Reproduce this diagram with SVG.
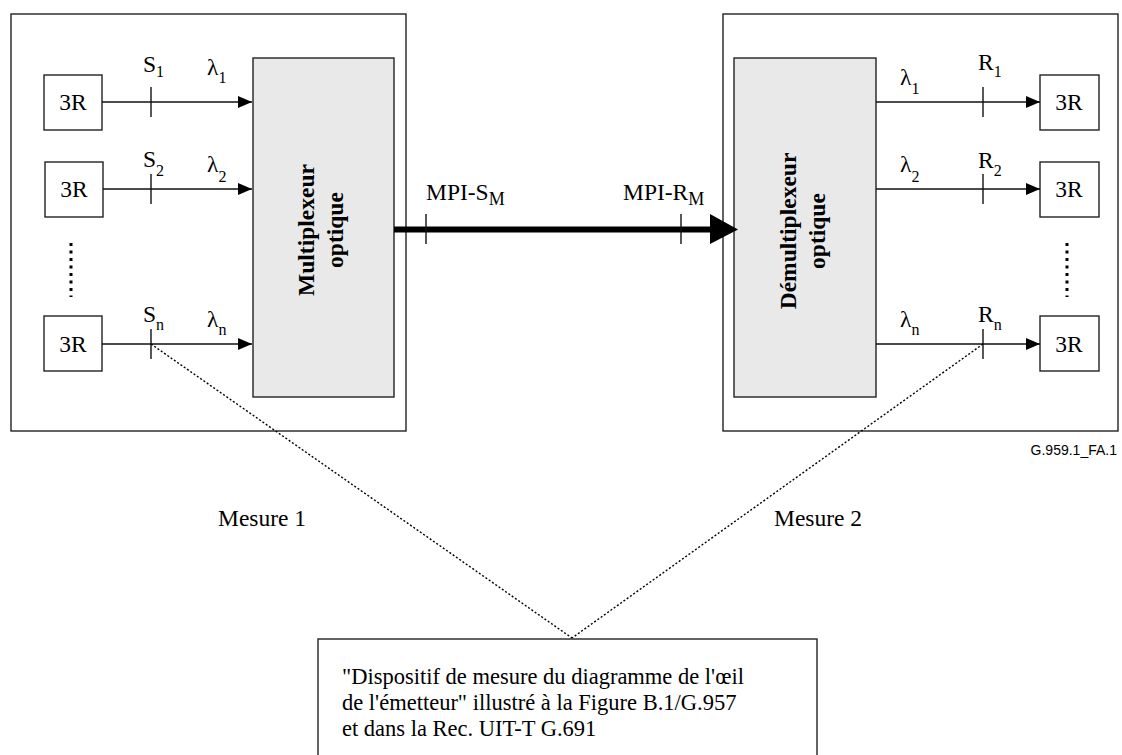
<svg xmlns="http://www.w3.org/2000/svg" width="1122" height="755" viewBox="0 0 1122 755">
<defs>
<marker id="arr" markerUnits="userSpaceOnUse" markerWidth="15" markerHeight="13" refX="14" refY="6" orient="auto"><path d="M0,0 L14,6 L0,12 z" fill="#000"/></marker>
<style>
.box{fill:#fff;stroke:#222;stroke-width:1.4}
.mux{fill:#e9e9e9;stroke:#222;stroke-width:1.4}
.ln{stroke:#111;stroke-width:1.4;fill:none}
.tk{stroke:#111;stroke-width:1.4}
.dots{stroke:#000;stroke-width:3;stroke-dasharray:3 4.5}
.dl{stroke:#000;stroke-width:1.4;stroke-dasharray:2 2;fill:none}
text{font-family:"Liberation Serif","Times New Roman",serif;font-size:23.5px;fill:#000}
.sub{font-size:16px}
.b{font-weight:bold}
.note{font-size:22.5px}
.sm{font-family:"Liberation Sans",Arial,sans-serif;font-size:14px}
</style>
</defs>
<g id="tx-system">
<rect class="box" x="11" y="14" width="395" height="417"/>
</g>
<g id="rx-system">
<rect class="box" x="723" y="14" width="395" height="417"/>
</g>
<g id="mux">
<rect class="mux" x="253" y="58" width="141" height="339"/>
<text class="b" x="314" y="230" text-anchor="middle" transform="rotate(-90 314 230)">Multiplexeur</text>
<text class="b" x="343" y="230" text-anchor="middle" transform="rotate(-90 343 230)">optique</text>
</g>
<g id="demux">
<rect class="mux" x="734" y="58" width="142" height="339"/>
<text class="b" x="796" y="231" text-anchor="middle" transform="rotate(-90 796 231)">Démultiplexeur</text>
<text class="b" x="825" y="231" text-anchor="middle" transform="rotate(-90 825 231)">optique</text>
</g>
<g id="tx1"><rect class="box" x="44" y="75" width="58" height="55"/><text x="73" y="110" text-anchor="middle">3R</text></g>
<g id="tx2"><rect class="box" x="45" y="162" width="58" height="55"/><text x="74" y="197" text-anchor="middle">3R</text></g>
<g id="txn"><rect class="box" x="44" y="316" width="58" height="55"/><text x="73" y="352" text-anchor="middle">3R</text></g>
<g id="rx1"><rect class="box" x="1040" y="75" width="59" height="55"/><text x="1069" y="110" text-anchor="middle">3R</text></g>
<g id="rx2"><rect class="box" x="1040" y="162" width="59" height="55"/><text x="1069" y="197" text-anchor="middle">3R</text></g>
<g id="rxn"><rect class="box" x="1040" y="316" width="59" height="55"/><text x="1069" y="352" text-anchor="middle">3R</text></g>
<g id="ellipsis">
<line class="dots" x1="71" y1="243" x2="71" y2="297"/>
<line class="dots" x1="1067" y1="243" x2="1067" y2="297"/>
</g>
<g id="connectors">
<line class="ln" x1="102" y1="102" x2="252" y2="102" marker-end="url(#arr)"/>
<line class="ln" x1="103" y1="189" x2="252" y2="189" marker-end="url(#arr)"/>
<line class="ln" x1="102" y1="344" x2="252" y2="344" marker-end="url(#arr)"/>
<line class="ln" x1="876" y1="102" x2="1040" y2="102" marker-end="url(#arr)"/>
<line class="ln" x1="876" y1="189" x2="1040" y2="189" marker-end="url(#arr)"/>
<line class="ln" x1="876" y1="344" x2="1040" y2="344" marker-end="url(#arr)"/>
<line x1="394" y1="229.5" x2="712" y2="229.5" stroke="#000" stroke-width="6"/>
<path d="M710,214 L738,229.5 L710,244 z" fill="#000"/>
<line class="dl" x1="151" y1="344" x2="572" y2="638"/>
<line class="dl" x1="983" y1="344" x2="572" y2="638"/>
</g>
<g id="ticks">
<line class="tk" x1="151" y1="87" x2="151" y2="117"/>
<line class="tk" x1="151" y1="174" x2="151" y2="204"/>
<line class="tk" x1="151" y1="329" x2="151" y2="359"/>
<line class="tk" x1="983" y1="87" x2="983" y2="117"/>
<line class="tk" x1="983" y1="174" x2="983" y2="204"/>
<line class="tk" x1="983" y1="329" x2="983" y2="359"/>
<line class="tk" x1="426" y1="214" x2="426" y2="244"/>
<line class="tk" x1="681" y1="214" x2="681" y2="244"/>
</g>
<g id="labels">
<text x="143" y="72">S<tspan class="sub" dy="5">1</tspan></text>
<text x="143" y="167">S<tspan class="sub" dy="9">2</tspan></text>
<text x="143" y="322">S<tspan class="sub" dy="8">n</tspan></text>
<text x="207" y="75">λ<tspan class="sub" dy="8">1</tspan></text>
<text x="207" y="172">λ<tspan class="sub" dy="10">2</tspan></text>
<text x="207" y="327">λ<tspan class="sub" dy="8">n</tspan></text>
<text x="900" y="85">λ<tspan class="sub" dy="9">1</tspan></text>
<text x="900" y="172">λ<tspan class="sub" dy="10">2</tspan></text>
<text x="900" y="327">λ<tspan class="sub" dy="8">n</tspan></text>
<text x="978" y="70">R<tspan class="sub" dy="7">1</tspan></text>
<text x="978" y="168">R<tspan class="sub" dy="8">2</tspan></text>
<text x="978" y="322">R<tspan class="sub" dy="8">n</tspan></text>
<text x="426" y="200">MPI-S<tspan class="sub" dy="5" style="font-size:18px">M</tspan></text>
<text x="623" y="200">MPI-R<tspan class="sub" dy="5" style="font-size:18px">M</tspan></text>
<text class="sm" x="1117" y="455" text-anchor="end">G.959.1_FA.1</text>
<text x="218" y="526">Mesure 1</text>
<text x="774" y="526">Mesure 2</text>
</g>
<g id="eye-monitor">
<rect class="box" x="318" y="639" width="499" height="130"/>
<text class="note" x="342" y="684">"Dispositif de mesure du diagramme de l'œil</text>
<text class="note" x="342" y="710">de l'émetteur" illustré à la Figure B.1/G.957</text>
<text class="note" x="342" y="736">et dans la Rec. UIT-T G.691</text>
</g>
</svg>
